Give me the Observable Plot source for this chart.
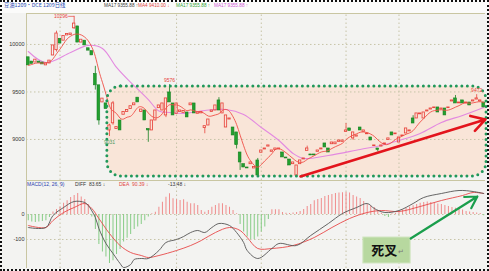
<!DOCTYPE html>
<html><head><meta charset="utf-8">
<script src="https://cdn.jsdelivr.net/npm/d3@7"></script>
<script src="https://cdn.jsdelivr.net/npm/@observablehq/plot@0.6"></script>
<style>
html,body{margin:0;padding:0;background:#fff;}
#wrap{position:relative;width:489px;height:271px;overflow:hidden;background:#f3f3f1;font-family:"Liberation Sans",Arial,sans-serif;}
#hdrbg{position:absolute;left:0;top:0;width:489px;height:13px;background:#fbfbfa;}
#wrap:after{content:"";position:absolute;left:0;top:0;right:0;bottom:0;border:2px dotted #111;pointer-events:none;}
.t{position:absolute;font-size:4.7px;white-space:nowrap;line-height:1;}
#toppanel{position:absolute;left:0;top:13px;}
#botpanel{position:absolute;left:0;top:180px;}
svg{overflow:visible;}
</style></head><body>
<div id="wrap">
<div id="hdrbg"></div>
<div id="toppanel"></div>
<div id="botpanel"></div>
<div class="t" style="left:4px;top:3px;color:#2c4fb6;font-family:'Noto Sans CJK SC';font-size:5.3px">豆油1209·DCE 1209日线</div>
<div class="t" style="left:104px;top:4px;color:#444">MA17 9355.88 ↑</div>
<div class="t" style="left:138px;top:4px;color:#e2463f">MA4 9410.00 ↓</div>
<div class="t" style="left:176px;top:4px;color:#3aa83a">MA17 9355.88 ↑</div>
<div class="t" style="left:214px;top:4px;color:#d25ad6">MA17 9355.88 ↑</div>
<div class="t" style="left:27px;top:182px;color:#2c3fb0;font-size:5px">MACD(12, 26, 9)</div>
<div class="t" style="left:75px;top:182px;color:#333;font-size:5px">DIFF&nbsp; 83.65 ↓</div>
<div class="t" style="left:119px;top:182px;color:#e2463f;font-size:5px">DEA&nbsp; 90.39 ↓</div>
<div class="t" style="left:168px;top:182px;color:#333;font-size:5px">-13.48 ↓</div>
</div>
<script>
// ---- price data (daily candles, index = trading day) ----
const opens = [9865,9820,9810,9820,9810,9780,9800,9884,9940,10060,
10040,10095,10100,10170,10190,10020,10040,9960,9930,9690,
9570,9390,9380,9095,9170,9110,9200,9260,9290,9320,
9360,9440,9290,9305,9110,9095,9200,9330,9305,9253,
9495,9379,9270,9290,9280,9284,9360,9379,9270,9275,
9120,9147,9290,9305,9411,9274,9126,9210,9126,9074,
8863,8740,8705,8740,8695,8779,8860,8895,8925,8870,
8890,8895,8863,8810,8789,8740,8621,8740,8790,8880,
8842,8842,8870,8895,8958,8905,8950,8950,8975,8975,
9080,9116,9011,9030,9126,9080,9055,9021,8930,8905,
8925,8950,8995,9074,9055,8968,9035,9063,9085,9221,
9221,9265,9221,9295,9315,9330,9337,9315,9326,9330,
9400,9432,9380,9411,9380,9389,9400,9420,9400,9389];
const closes = [9780,9795,9840,9805,9790,9800,9830,9990,10115,10010,
10090,10110,10115,10220,10020,10050,9990,9935,9885,9570,
9200,9430,9320,9147,9380,9130,9095,9290,9310,9350,
9380,9390,9315,9200,9095,9200,9305,9358,9379,9432,
9390,9253,9379,9305,9300,9232,9379,9274,9284,9290,
9140,9210,9305,9358,9305,9379,9253,9221,9042,8940,
8758,8705,8695,8758,8710,8621,8884,8905,8937,8884,
8905,8905,8811,8800,8726,8758,8726,8779,8800,8905,
8832,8832,8884,8905,8916,8863,8968,8968,8989,8989,
9095,9090,9074,9042,9095,9095,9063,8989,8937,8890,
8937,8958,9011,9042,9063,9021,9042,9116,9095,9168,
9274,9274,9284,9305,9326,9337,9284,9326,9253,9337,
9411,9379,9389,9379,9389,9358,9411,9432,9411,9337];
const wickDays  = [8,13,19,20,23,24,34,39,40,50,54,59,60,65,76,79,90,92,99,109,121,127];
const wickHighs = [10140,10296,9770,null,9160,9400,null,null,9576,null,9440,null,null,8800,null,8930,9168,null,null,9250,9463,9472];
const wickLows  = [9920,10160,9520,9150,9031,9150,8970,9230,null,9060,null,8900,8674,8600,8600,null,null,8990,8870,null,null,null];
const ma20Days = [0,5,12,17,21,25,29,31,34,37,40,44,50,56,61,66,71,75,78,85,94,100,105,111,117,123,129];
const ma20Vals = [9926,9810,9916,9990,9958,9758,9600,9530,9420,9300,9284,9274,9305,9316,9263,9126,8989,8853,8800,8832,8895,8937,8989,9063,9179,9253,9337];
const yTicks = [9000, 9500, 10000];
const monthDays = [9, 42, 66, 90, 105];
const labelDays = [11.2, 40, 23, 127];
const labelValues = [10296, 9576, 9031, 9472];
const labelTexts = ["10296", "9576", "9031", "9472"];
const boxDays = [22.4, 129.8];
const boxValues = [8611, 9558];
const arrowDays = [77.1, 129.5];
const arrowValues = [8611, 9211];

// ---- MACD data ----
const macdHist = [-25,-30,-32,-30,-28,-25,-12,10,20,30,
45,55,68,76,84,70,60,40,-10,-60,
-120,-150,-170,-196,-185,-160,-140,-110,-95,-80,
-60,-50,-40,-25,-10,3,9,29,49,69,
83,63,59,56,59,49,43,43,36,16,
9,16,29,36,43,43,36,29,16,3,
-40,-70,-90,-100,-100,-90,-70,-50,-20,19,
19,19,8,5,4,6,8,12,20,32,
40,55,60,64,72,76,80,84,86,87,
88,86,76,70,64,52,40,34,28,15,
5,-8,-12,3,5,10,18,25,30,35,
40,45,48,50,48,45,42,40,36,32,
28,25,22,18,12,10,8,6,4,-5];
const diffDays = [0,5,7,10,13,16,17,19,20,22,24,26,27,29,30,32,34,37,39,42,44,46,48,50,52,54,57,59,61,62,65,69,71,76,80,85,89,93,96,98,101,105,109,112,117,122,126,129];
const diffVals = [-52,-52,-4,28,52,48,36,-12,-56,-116,-156,-196,-212,-200,-180,-176,-176,-144,-112,-100,-88,-72,-64,-72,-52,-36,-44,-72,-112,-144,-176,-136,-116,-124,-84,-36,4,28,44,24,8,16,44,68,84,96,92,84];
const deaDays = [0,5,7,10,13,16,18,20,23,26,29,32,34,37,42,46,49,53,57,60,62,65,69,75,81,86,91,96,100,105,111,117,123,126,129];
const deaVals = [-44,-52,-24,8,28,44,24,-16,-76,-124,-152,-164,-172,-164,-144,-124,-104,-72,-52,-64,-92,-136,-136,-124,-92,-52,-16,8,16,12,32,56,76,88,84];
const macdTicks = [0, -100];
const crossBoxDays = [94.9, 108.3];
const crossBoxValues = [-92, -196];
const crossArrowDays = [108.3, 127.2];
const crossArrowValues = [-96, 72];

// ---- build ----
const RED = "#e8453d", GREEN = "#22a02f", GRID = "#c7c4a8", AX = "#c9c6a2";
const candles = opens.map((o, i) => ({i, o, c: closes[i], up: closes[i] >= o, hi: Math.max(o, closes[i]), lo: Math.min(o, closes[i])}));
const wicks = wickDays.map((d, k) => ({i: d, h: wickHighs[k], l: wickLows[k], hi: candles[d].hi, lo: candles[d].lo, up: candles[d].up}));
const ma20 = ma20Days.map((d, k) => ({i: d, v: ma20Vals[k]}));
const box = [{x1: boxDays[0], x2: boxDays[1], y1: boxValues[0], y2: boxValues[1]}];
const arrow = [{x1: arrowDays[0], x2: arrowDays[1], y1: arrowValues[0], y2: arrowValues[1]}];
const labels = labelDays.map((d, k) => ({i: d, v: labelValues[k], t: labelTexts[k]}));
const xs = {domain: [-0.5, 129.5], range: [26, 485], axis: null};
const YMIN = 8568, YMAX = 10326;

const upperChart = Plot.plot({
  width: 489, height: 167, margin: 0,
  x: xs, y: {domain: [YMIN, YMAX], range: [167, 0], axis: null},
  color: {domain: ["r", "g"], range: [RED, "#14801f"]},
  style: {background: "transparent", overflow: "visible", fontFamily: "Liberation Sans, Arial, sans-serif"},
  marks: [
    Plot.rect(box, {x1: "x1", x2: "x2", y1: "y1", y2: "y2", fill: "#f9e5d8", rx: 14, ry: 14}),
    Plot.ruleY(yTicks, {x1: -0.5, x2: 129.5, y: d => d, stroke: GRID, strokeDasharray: "1.5,2.5"}),
    Plot.ruleX(monthDays, {x: d => d, y1: YMIN, y2: YMAX, stroke: GRID, strokeDasharray: "1.5,2.5"}),
    Plot.ruleX([-0.5], {x: d => d, y1: YMIN, y2: YMAX, stroke: AX}),
    Plot.ruleY([YMAX], {x1: -0.5, x2: 129.5, y: d => d, stroke: AX}),
    Plot.text(yTicks, {x: -0.5, y: d => d, text: d => String(d), textAnchor: "end", dx: -2, fontSize: 5.5, fill: "#333"}),
    Plot.line(ma20, {x: "i", y: "v", stroke: "#e389e0", strokeWidth: 1.1, curve: "catmull-rom"}),
    Plot.ruleX(wicks.filter(w => w.h != null), {x: "i", y1: "h", y2: "hi", stroke: d => d.up ? "r" : "g", strokeWidth: 0.8}),
    Plot.ruleX(wicks.filter(w => w.l != null), {x: "i", y1: "l", y2: "lo", stroke: d => d.up ? "r" : "g", strokeWidth: 0.8}),
    Plot.rect(candles.filter(d => !d.up), {x1: d => d.i - 0.5, x2: d => d.i + 0.5, y1: "o", y2: "c", insetLeft: 0.4, insetRight: 0.4, fill: GREEN, stroke: "#14801f", strokeWidth: 0.6}),
    Plot.rect(candles.filter(d => d.up), {x1: d => d.i - 0.5, x2: d => d.i + 0.5, y1: "o", y2: "c", insetLeft: 0.6, insetRight: 0.6, fill: "none", stroke: RED, strokeWidth: 0.85}),
    Plot.lineY(candles, Plot.windowY({k: 5, anchor: "end"}, {x: "i", y: "c", stroke: "#ef4f47", strokeWidth: 0.9, curve: "basis"})),
    Plot.rect(box, {x1: "x1", x2: "x2", y1: "y1", y2: "y2", fill: "none", stroke: "#20985a", strokeWidth: 3, strokeDasharray: "0,5.5", strokeLinecap: "round", rx: 14, ry: 14}),
    Plot.arrow(arrow, {x1: "x1", y1: "y1", x2: "x2", y2: "y2", stroke: "#e3141c", strokeWidth: 2.6, headLength: 9}),
    Plot.text(labels.filter(d => d.t === "10296"), {x: "i", y: "v", text: "t", textAnchor: "end", fontSize: 5, fill: RED}),
    Plot.link([{a: 11.3, b: 13, v: 10296}], {x1: "a", x2: "b", y1: "v", y2: "v", stroke: RED, strokeWidth: 0.7}),
    Plot.text(labels.filter(d => d.t === "9576" || d.t === "9472"), {x: "i", y: "v", text: "t", dy: -4, fontSize: 5, fill: RED}),
    Plot.text(labels.filter(d => d.t === "9031"), {x: "i", y: "v", text: "t", dy: 6, fontSize: 5, fill: "#4a9a5e"})
  ]
});
document.getElementById("toppanel").appendChild(upperChart);

const hist = macdHist.map((v, i) => ({i, v}));
const diff = diffDays.map((d, k) => ({i: d, v: diffVals[k]}));
const dea = deaDays.map((d, k) => ({i: d, v: deaVals[k]}));
const MMIN = -216, MMAX = 136;
const cbox = [{x1: crossBoxDays[0], x2: crossBoxDays[1], y1: crossBoxValues[0], y2: crossBoxValues[1]}];
const carrow = [{x1: crossArrowDays[0], x2: crossArrowDays[1], y1: crossArrowValues[0], y2: crossArrowValues[1]}];

const lowerChart = Plot.plot({
  width: 489, height: 88, margin: 0,
  x: xs, y: {domain: [MMIN, MMAX], range: [88, 0], axis: null},
  style: {background: "transparent", overflow: "visible", fontFamily: "Liberation Sans, Arial, sans-serif"},
  marks: [
    Plot.ruleY(macdTicks, {x1: -0.5, x2: 129.5, y: d => d, stroke: GRID, strokeDasharray: "1.5,2.5"}),
    Plot.ruleX(monthDays, {x: d => d, y1: MMIN, y2: MMAX, stroke: GRID, strokeDasharray: "1.5,2.5"}),
    Plot.ruleX([-0.5], {x: d => d, y1: MMIN, y2: MMAX, stroke: AX}),
    Plot.ruleY([MMAX], {x1: -0.5, x2: 129.5, y: d => d, stroke: AX}),
    Plot.text(macdTicks, {x: -0.5, y: d => d, text: d => String(d), textAnchor: "end", dx: -2, fontSize: 5.5, fill: "#333"}),
    Plot.ruleX(hist.filter(d => d.v >= 0), {x: "i", y1: 0, y2: "v", stroke: "#f08c8c", strokeWidth: 1}),
    Plot.ruleX(hist.filter(d => d.v < 0), {x: "i", y1: 0, y2: "v", stroke: "#86cc86", strokeWidth: 1}),
    Plot.line(dea, {x: "i", y: "v", stroke: "#e84a4a", strokeWidth: 0.9, curve: "catmull-rom"}),
    Plot.line(diff, {x: "i", y: "v", stroke: "#555", strokeWidth: 0.9, curve: "catmull-rom"}),
    Plot.rect(cbox, {x1: "x1", x2: "x2", y1: "y1", y2: "y2", fill: "#b7d89f", stroke: "#d2e6c2", strokeWidth: 1}),
    Plot.text(["死叉"], {x: 100.8, y: -146, text: d => d, fontSize: 13, fontWeight: "bold", fontFamily: "Noto Sans CJK SC", fill: "#111"}),
    Plot.text(["↵"], {x: 105.6, y: -150, text: d => d, fontSize: 7, fill: "#777"}),
    Plot.arrow(carrow, {x1: "x1", y1: "y1", x2: "x2", y2: "y2", stroke: "#1a9e4c", strokeWidth: 2.2, headLength: 9})
  ]
});
document.getElementById("botpanel").appendChild(lowerChart);
</script>
</body></html>
